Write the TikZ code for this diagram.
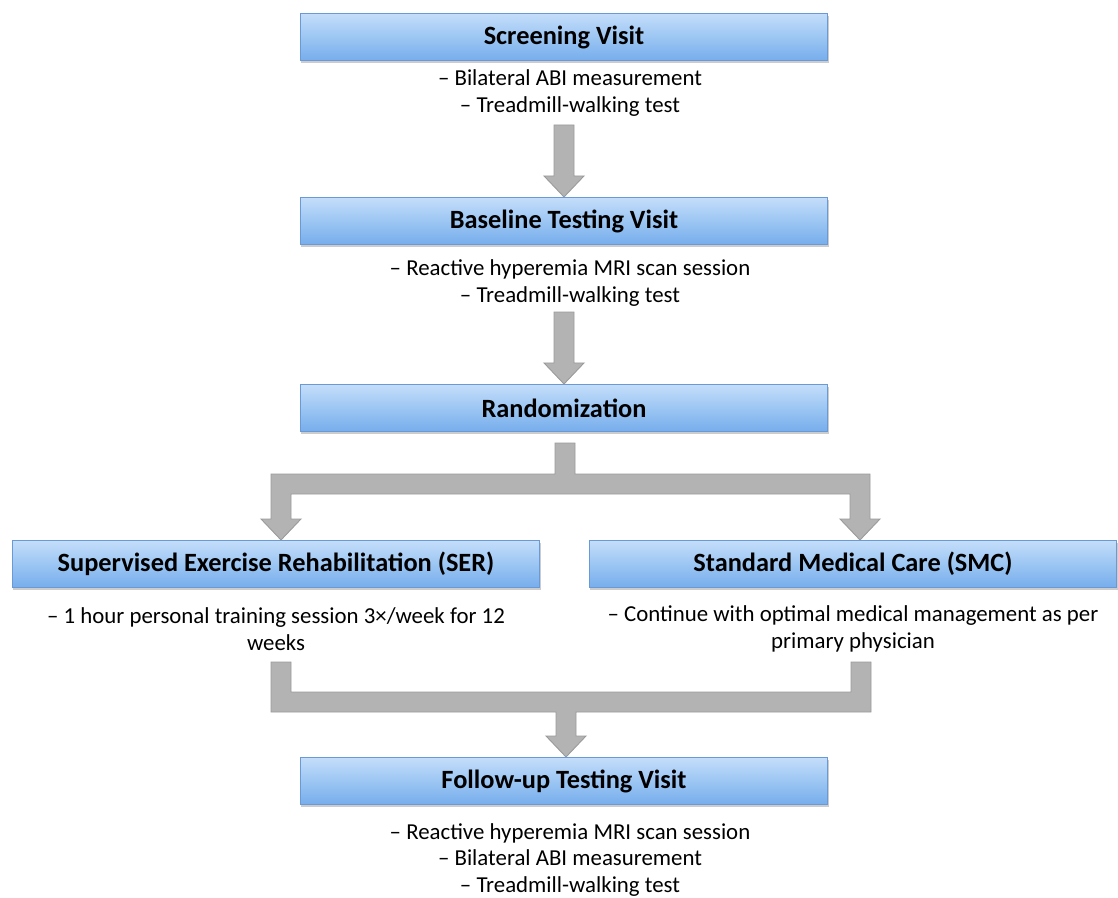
\documentclass[tikz,border=0pt]{standalone}
\usepackage{fontspec}
\setmainfont{Carlito}
\usetikzlibrary{calc,shadows}
\definecolor{boxtop}{HTML}{C4DEFA}
\definecolor{boxmid}{HTML}{9CC6F3}
\definecolor{boxbot}{HTML}{76ADEC}
\definecolor{boxline}{HTML}{6A9AD6}
\definecolor{arrfill}{HTML}{B3B3B3}
\definecolor{arrline}{HTML}{9A9A9A}
% block arrow straight down: #1 top of shaft, #2 tip
\newcommand{\vblock}[2]{%
  \filldraw[blockarrow] ($(#1)+(-10,0)$) -- ($(#1)+(10,0)$) -- ($(#2)+(10,-21)$)
    -- ($(#2)+(20,-21)$) -- (#2) -- ($(#2)+(-20,-21)$) -- ($(#2)+(-10,-21)$) -- cycle;}
\begin{document}
\begin{tikzpicture}[x=0.02cm,y=-0.02cm,
    stage/.style={draw=boxline,line width=0.6pt,minimum width=10.56cm,minimum height=0.94cm,
      top color=boxtop,bottom color=boxbot,middle color=boxmid,
      drop shadow={shadow xshift=0.6pt,shadow yshift=-1.6pt,opacity=0.4},
      font=\fontsize{15}{18}\selectfont\bfseries},
    notes/.style={align=center,font=\fontsize{13}{15.1}\selectfont,inner sep=0pt},
    blockarrow/.style={fill=arrfill,draw=arrline,line width=0.5pt,line join=miter}]
  \path[use as bounding box] (0,0) rectangle (1118,898);
  % stages
  \node[stage] at (564,37) (screen) {Screening Visit};
  \node[notes] at (570,93) (screentxt) {-- Bilateral ABI measurement\\-- Treadmill-walking test};
  \node[stage] at (564,221) (base) {Baseline Testing Visit};
  \node[notes] at (570,283) (basetxt) {-- Reactive hyperemia MRI scan session\\-- Treadmill-walking test};
  \node[stage] at (564,408) (rand) {Randomization};
  \node[stage] at (276,564) (ser) {Supervised Exercise Rehabilitation (SER)};
  \node[notes] at (276,629) (sertxt) {-- 1 hour personal training session 3×/week for 12\\weeks};
  \node[stage] at (853,564) (smc) {Standard Medical Care (SMC)};
  \node[notes] at (853,629) (smctxt) {-- Continue with optimal medical management as per\\primary physician};
  \node[stage] at (564,781) (follow) {Follow-up Testing Visit};
  \node[notes] at (570,860) (followtxt) {-- Reactive hyperemia MRI scan session\\-- Bilateral ABI measurement\\-- Treadmill-walking test};
  % arrow ends
  \coordinate (a1) at (564,125);
  \coordinate (a2) at (564,312);
  \coordinate (sp) at (565,443);
  \coordinate (sl) at (281,540);
  \coordinate (sr) at (860,540);
  \coordinate (ml) at (281,662);
  \coordinate (mr) at (861,662);
  \coordinate (mt) at (566,757);
  \vblock{a1}{screen.south |- base.north}
  \vblock{a2}{base.south |- rand.north}
  % split after randomization
  \filldraw[blockarrow] ($(sp)+(-10,0)$) -- ($(sp)+(10,0)$) -- ($(sp)+(10,31)$)
    -- ($(sr |- sp)+(10,31)$) -- ($(sr)+(10,-21)$) -- ($(sr)+(20,-21)$) -- (sr)
    -- ($(sr)+(-20,-21)$) -- ($(sr)+(-10,-21)$) -- ($(sr |- sp)+(-10,51)$)
    -- ($(sl |- sp)+(10,51)$) -- ($(sl)+(10,-21)$) -- ($(sl)+(20,-21)$) -- (sl)
    -- ($(sl)+(-20,-21)$) -- ($(sl)+(-10,-21)$) -- ($(sl |- sp)+(-10,31)$)
    -- ($(sp)+(-10,31)$) -- cycle;
  % merge to follow-up
  \filldraw[blockarrow] ($(ml)+(-10,0)$) -- ($(ml)+(10,0)$) -- ($(ml)+(10,30)$)
    -- ($(mr)+(-10,30)$) -- ($(mr)+(-10,0)$) -- ($(mr)+(10,0)$) -- ($(mr)+(10,50)$)
    -- ($(mt |- mr)+(10,50)$) -- ($(mt)+(10,-21)$) -- ($(mt)+(20,-21)$) -- (mt)
    -- ($(mt)+(-20,-21)$) -- ($(mt)+(-10,-21)$) -- ($(mt |- mr)+(-10,50)$)
    -- ($(ml)+(-10,50)$) -- cycle;
\end{tikzpicture}
\end{document}
